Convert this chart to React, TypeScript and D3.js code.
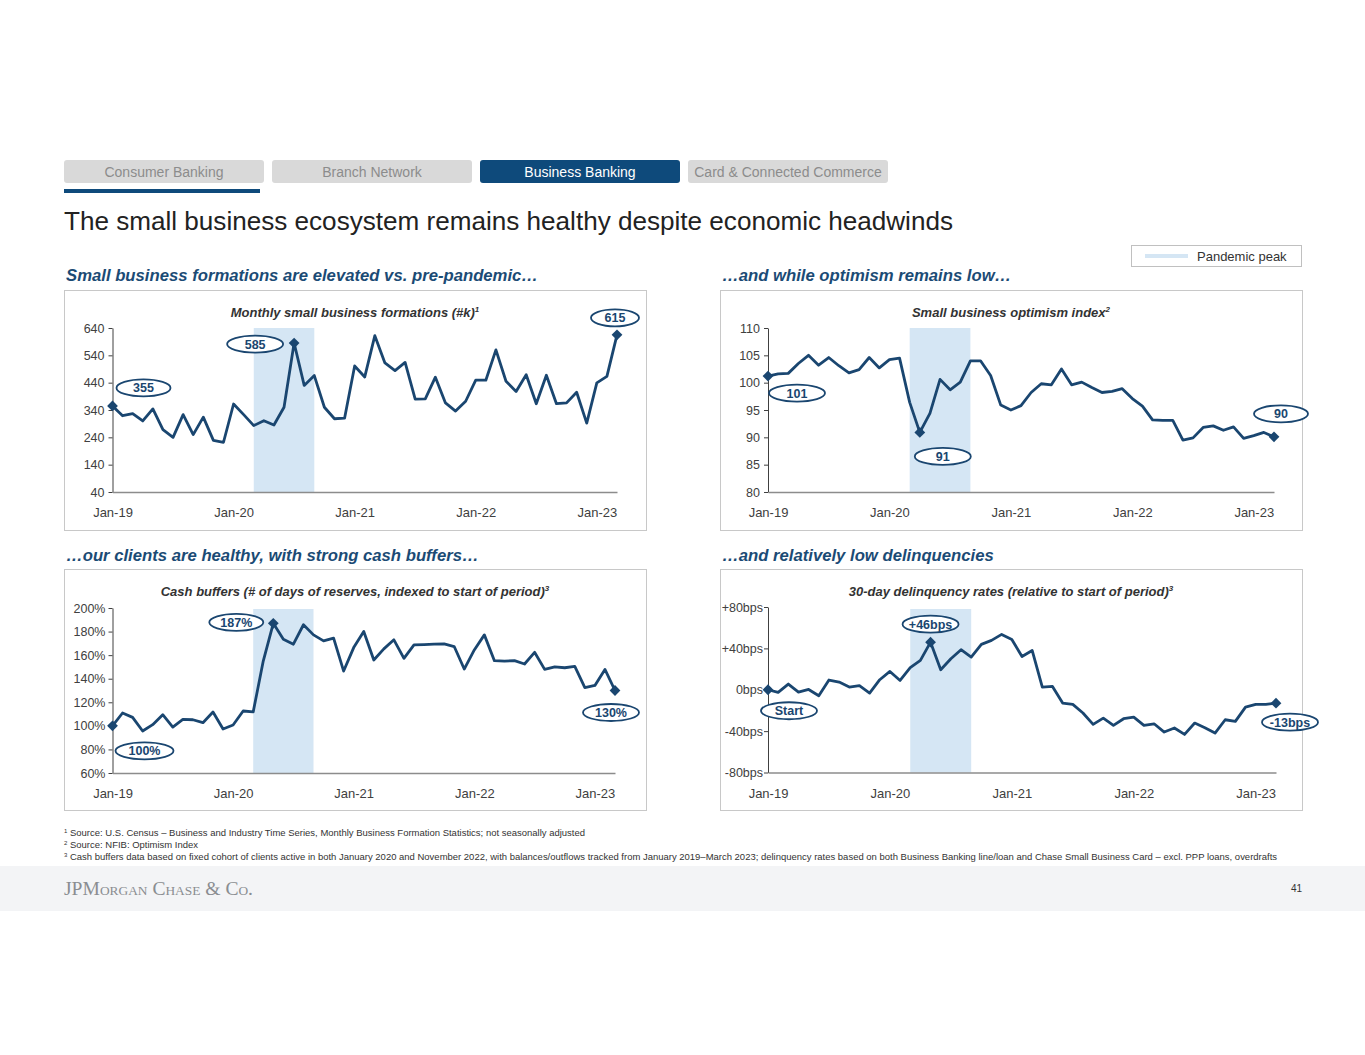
import React, { useEffect, useRef } from "react";
import * as d3 from "d3";

// ---- data ----
const months = d3
  .timeMonth.range(new Date(2019, 0, 1), new Date(2023, 3, 1))
  .map(d3.timeFormat("%b-%y"));
const yearTicks = ["Jan-19", "Jan-20", "Jan-21", "Jan-22", "Jan-23"];
const pandemicBand = ["Mar-20", "Sep-20"];

const formations = [
  355, 319, 327, 300, 344, 268, 240, 323, 250, 314, 229, 222, 362, 323, 283, 301, 285, 350, 585, 430,
  466, 350, 308, 310, 501, 461, 612, 512, 484, 514, 380, 381, 460, 366, 336, 372, 449, 449, 560, 445,
  408, 469, 363, 467, 363, 366, 405, 292, 439, 463, 615,
];
const optimism = [
  101.2, 101.6, 101.7, 103.5, 105.0, 103.2, 104.6, 103.1, 101.8, 102.4, 104.6, 102.7, 104.2, 104.5,
  96.4, 90.9, 94.4, 100.6, 98.7, 100.1, 104.0, 104.0, 101.3, 95.9, 95.0, 95.8, 98.2, 99.8, 99.6, 102.5,
  99.6, 100.1, 99.1, 98.2, 98.4, 98.9, 97.1, 95.7, 93.2, 93.1, 93.1, 89.5, 89.9, 91.8, 92.1, 91.3, 91.9,
  89.8, 90.3, 90.9, 90.1,
];
const cashBuffers = [
  100, 110.9, 107.2, 95.6, 101, 109.5, 99, 105.5, 105.2, 102.7, 111.8, 97.3, 100.7, 112.6, 111.8, 155,
  187, 173.5, 169.3, 185.8, 177.2, 172.1, 174.4, 146.5, 166.4, 180.1, 155.9, 165.3, 173, 157.3, 168.7,
  169, 169.3, 169.5, 167.3, 148.2, 164.4, 177.2, 155.3, 155, 155.3, 152.5, 162.4, 147.9, 150, 149.3,
  150.5, 132.5, 134.3, 147.9, 130,
];
const delinquency = [
  0, -2.6, 5.5, -2.3, 0.3, -5.8, 9.4, 7.4, 2.6, 3.9, -3.2, 9.7, 17.7, 9, 21.3, 28.4, 46, 19.4, 30, 38.7,
  31.6, 43.9, 47.7, 53.5, 48.6, 32.2, 38, 2.6, 3.2, -12.9, -14.2, -22.5, -33.5, -27.4, -34.5, -28, -26.4,
  -34.5, -32.9, -40.9, -37, -43.2, -32.2, -36.7, -41.9, -29, -30.6, -16.8, -14.2, -14.2, -13,
];

const formationTicks = [40, 140, 240, 340, 440, 540, 640];
const optimismTicks = [80, 85, 90, 95, 100, 105, 110];
const cashTicks = [60, 80, 100, 120, 140, 160, 180, 200];
const delinquencyTicks = [-80, -40, 0, 40, 80];

const tabs = ["Consumer Banking", "Branch Network", "Business Banking", "Card & Connected Commerce"];
const activeTab = "Business Banking";

const footnotes = [
  ["1", "Source: U.S. Census – Business and Industry Time Series, Monthly Business Formation Statistics; not seasonally adjusted"],
  ["2", "Source: NFIB: Optimism Index"],
  ["3", "Cash buffers data based on fixed cohort of clients active in both January 2020 and November 2022, with balances/outflows tracked from January 2019–March 2023; delinquency rates based on both Business Banking line/loan and Chase Small Business Card – excl. PPP loans, overdrafts"],
];
const footnoteWidths = [515, 128, 1207];

// ---- styles ----
const FONT = "'Liberation Sans', Arial, Helvetica, sans-serif";
const NAVY = "#1a4670";
const HEAD = "#1b4b75";
const BAND = "#d5e6f4";
const BORDER = "#c8c8c8";

interface Note { i: number; text: string; dx: number; dy: number; rx: number }
interface PanelSpec {
  box: { x: number; y: number; w: number; h: number };
  plot: { x0: number; x1: number; top: number; bottom: number; bandTop: number };
  title: string;
  sup: string;
  values: number[];
  domain: [number, number];
  ticks: number[];
  format: (d: number) => string;
  pad: number;
  notes: Note[];
}

const panels: PanelSpec[] = [
  {
    box: { x: 64, y: 290, w: 582, h: 240 },
    plot: { x0: 112.5, x1: 617, top: 328, bottom: 492, bandTop: 328 },
    title: "Monthly small business formations (#k)",
    sup: "1",
    values: formations,
    domain: [40, 640],
    ticks: formationTicks,
    format: (d) => `${d}`,
    pad: 4,
    notes: [
      { i: 0, text: "355", dx: 31, dy: -18, rx: 27 },
      { i: 18, text: "585", dx: -39, dy: 1, rx: 28 },
      { i: 50, text: "615", dx: -2, dy: -17, rx: 24 },
    ],
  },
  {
    box: { x: 720, y: 290, w: 582, h: 240 },
    plot: { x0: 768, x1: 1274, top: 328, bottom: 492, bandTop: 328 },
    title: "Small business optimism index",
    sup: "2",
    values: optimism,
    domain: [80, 110],
    ticks: optimismTicks,
    format: (d) => `${d}`,
    pad: 4,
    notes: [
      { i: 0, text: "101", dx: 29, dy: 17, rx: 28 },
      { i: 15, text: "91", dx: 23, dy: 24, rx: 28 },
      { i: 50, text: "90", dx: 7, dy: -23, rx: 27 },
    ],
  },
  {
    box: { x: 64, y: 569, w: 582, h: 241 },
    plot: { x0: 112.5, x1: 615, top: 608, bottom: 773, bandTop: 609 },
    title: "Cash buffers (# of days of reserves, indexed to start of period)",
    sup: "3",
    values: cashBuffers,
    domain: [60, 200],
    ticks: cashTicks,
    format: (d) => `${d}%`,
    pad: 3,
    notes: [
      { i: 16, text: "187%", dx: -37, dy: -1, rx: 27 },
      { i: 0, text: "100%", dx: 32, dy: 25, rx: 29 },
      { i: 50, text: "130%", dx: -4, dy: 22, rx: 28 },
    ],
  },
  {
    box: { x: 720, y: 569, w: 582, h: 241 },
    plot: { x0: 768, x1: 1276, top: 607, bottom: 772.5, bandTop: 609 },
    title: "30-day delinquency rates (relative to start of period)",
    sup: "3",
    values: delinquency,
    domain: [-80, 80],
    ticks: delinquencyTicks,
    format: (d) => (d > 0 ? `+${d}bps` : `${d}bps`),
    pad: 1,
    notes: [
      { i: 16, text: "+46bps", dx: 0, dy: -18, rx: 28 },
      { i: 0, text: "Start", dx: 21, dy: 21, rx: 28 },
      { i: 50, text: "-13bps", dx: 14, dy: 19, rx: 28 },
    ],
  },
];

const Panel: React.FC<{ spec: PanelSpec }> = ({ spec }) => {
  const ref = useRef<SVGGElement>(null);

  useEffect(() => {
    if (!ref.current) return;
    const g = d3.select(ref.current);
    g.selectAll("*").remove();
    const { box, plot } = spec;

    g.append("rect")
      .attr("x", box.x + 0.5)
      .attr("y", box.y + 0.5)
      .attr("width", box.w)
      .attr("height", box.h)
      .attr("fill", "white")
      .attr("stroke", BORDER);

    const title = g
      .append("text")
      .attr("x", box.x + box.w / 2)
      .attr("y", box.y + 27)
      .attr("text-anchor", "middle")
      .attr("font-family", FONT)
      .attr("font-size", 13)
      .attr("font-weight", "bold")
      .attr("font-style", "italic")
      .attr("fill", "#333");
    title.append("tspan").text(spec.title);
    title.append("tspan").attr("dy", -5).attr("font-size", 8).text(spec.sup);

    const x = d3.scalePoint<string>().domain(months).range([plot.x0, plot.x1]);
    const y = d3.scaleLinear().domain(spec.domain).range([plot.bottom, plot.top]);

    const bx0 = x(pandemicBand[0]) ?? 0;
    const bx1 = x(pandemicBand[1]) ?? 0;
    g.append("rect")
      .attr("x", bx0)
      .attr("y", plot.bandTop)
      .attr("width", bx1 - bx0)
      .attr("height", plot.bottom - plot.bandTop)
      .attr("fill", BAND);

    const yAxis = g
      .append("g")
      .attr("transform", `translate(${plot.x0},0)`)
      .call(
        d3
          .axisLeft(y)
          .tickValues(spec.ticks)
          .tickFormat((d) => spec.format(d as number))
          .tickSize(4)
          .tickSizeOuter(0)
          .tickPadding(spec.pad)
      );
    yAxis.attr("font-family", FONT).attr("font-size", 12.5);
    yAxis.select(".domain").attr("stroke", "#404040");
    yAxis.selectAll(".tick line").attr("stroke", "#404040");
    yAxis.selectAll("text").attr("fill", "#404040");

    const xAxis = g
      .append("g")
      .attr("transform", `translate(0,${plot.bottom})`)
      .call(d3.axisBottom(x).tickValues(yearTicks).tickSize(0).tickSizeOuter(0).tickPadding(16));
    xAxis.attr("font-family", FONT).attr("font-size", 13);
    xAxis.select(".domain").attr("stroke", "#8c8c8c").attr("stroke-width", 1.5);
    xAxis.selectAll("text").attr("fill", "#404040");

    const line = d3
      .line<number>()
      .x((_, i) => x(months[i]) ?? 0)
      .y((d) => y(d));
    g.append("path")
      .datum(spec.values)
      .attr("d", line)
      .attr("fill", "none")
      .attr("stroke", NAVY)
      .attr("stroke-width", 2.8)
      .attr("stroke-linejoin", "round");

    const diamond = d3.symbol().type(d3.symbolSquare).size(58);
    g.selectAll("path.marker")
      .data(spec.notes)
      .enter()
      .append("path")
      .attr("class", "marker")
      .attr("d", diamond)
      .attr("transform", (n) => `translate(${x(months[n.i])},${y(spec.values[n.i])}) rotate(45)`)
      .attr("fill", NAVY);

    const labels = g
      .selectAll("g.note")
      .data(spec.notes)
      .enter()
      .append("g")
      .attr("class", "note")
      .attr(
        "transform",
        (n) => `translate(${(x(months[n.i]) ?? 0) + n.dx},${y(spec.values[n.i]) + n.dy})`
      );
    labels
      .append("ellipse")
      .attr("rx", (n) => n.rx)
      .attr("ry", 8.5)
      .attr("fill", "white")
      .attr("stroke", NAVY)
      .attr("stroke-width", 1.8);
    labels
      .append("text")
      .attr("text-anchor", "middle")
      .attr("dy", "0.36em")
      .attr("font-family", FONT)
      .attr("font-size", 12.5)
      .attr("font-weight", "bold")
      .attr("fill", NAVY)
      .text((n) => n.text);
  }, [spec]);

  return <g ref={ref} />;
};

const App: React.FC = () => {
  useEffect(() => {
    document.body.style.margin = "0";
    document.body.style.overflow = "hidden";
  }, []);

  const tabX = d3.scaleBand().domain(tabs).range([64, 888]).paddingInner(8 / 208);

  return (
    <svg width={1365} height={1055} style={{ display: "block", background: "white" }} fontFamily={FONT}>
      {tabs.map((t) => {
        const on = t === activeTab;
        const x0 = tabX(t) ?? 0;
        return (
          <g key={t}>
            <rect x={x0} y={160} width={tabX.bandwidth()} height={23} rx={3} fill={on ? "#0e4a7b" : "#d9d9d9"} />
            <text x={x0 + tabX.bandwidth() / 2} y={176.5} textAnchor="middle" fontSize={14} fill={on ? "white" : "#8c8c8c"}>
              {t}
            </text>
          </g>
        );
      })}
      <rect x={64} y={189} width={196} height={4} fill="#0e4a7b" />

      <text x={64} y={230} fontSize={26} fill="#222" textLength={889} lengthAdjust="spacingAndGlyphs">
        The small business ecosystem remains healthy despite economic headwinds
      </text>

      <rect x={1131.5} y={245.5} width={170} height={21} fill="white" stroke="#c0c0c0" />
      <line x1={1145} x2={1188} y1={256} y2={256} stroke={BAND} strokeWidth={4} />
      <text x={1197} y={260.5} fontSize={13} fill="#333">Pandemic peak</text>

      <g fontSize={16.7} fontWeight="bold" fontStyle="italic" fill={HEAD}>
        <text x={66} y={281}>Small business formations are elevated vs. pre-pandemic…</text>
        <text x={722} y={281}>…and while optimism remains low…</text>
        <text x={66} y={561}>…our clients are healthy, with strong cash buffers…</text>
        <text x={722} y={561}>…and relatively low delinquencies</text>
      </g>

      {panels.map((p) => (
        <Panel key={p.title} spec={p} />
      ))}

      <g fontSize={9.4} fill="#333">
        {footnotes.map(([n, t], i) => (
          <g key={n}>
            <text x={64} y={833 + i * 12} fontSize={6}>{n}</text>
            <text x={70} y={836 + i * 12} textLength={footnoteWidths[i]} lengthAdjust="spacingAndGlyphs">
              {t}
            </text>
          </g>
        ))}
      </g>

      <rect x={0} y={866} width={1365} height={45} fill="#f3f4f6" />
      <text
        x={64}
        y={895}
        fontFamily="'Liberation Serif', 'DejaVu Serif', serif"
        fontSize={19}
        fill="#8a8d91"
        style={{ fontVariant: "small-caps" }}
        textLength={189}
        lengthAdjust="spacingAndGlyphs"
      >
        JPMorgan Chase &amp; Co.
      </text>
      <text x={1302} y={892} textAnchor="end" fontSize={10} fill="#333">41</text>
    </svg>
  );
};

export default App;
